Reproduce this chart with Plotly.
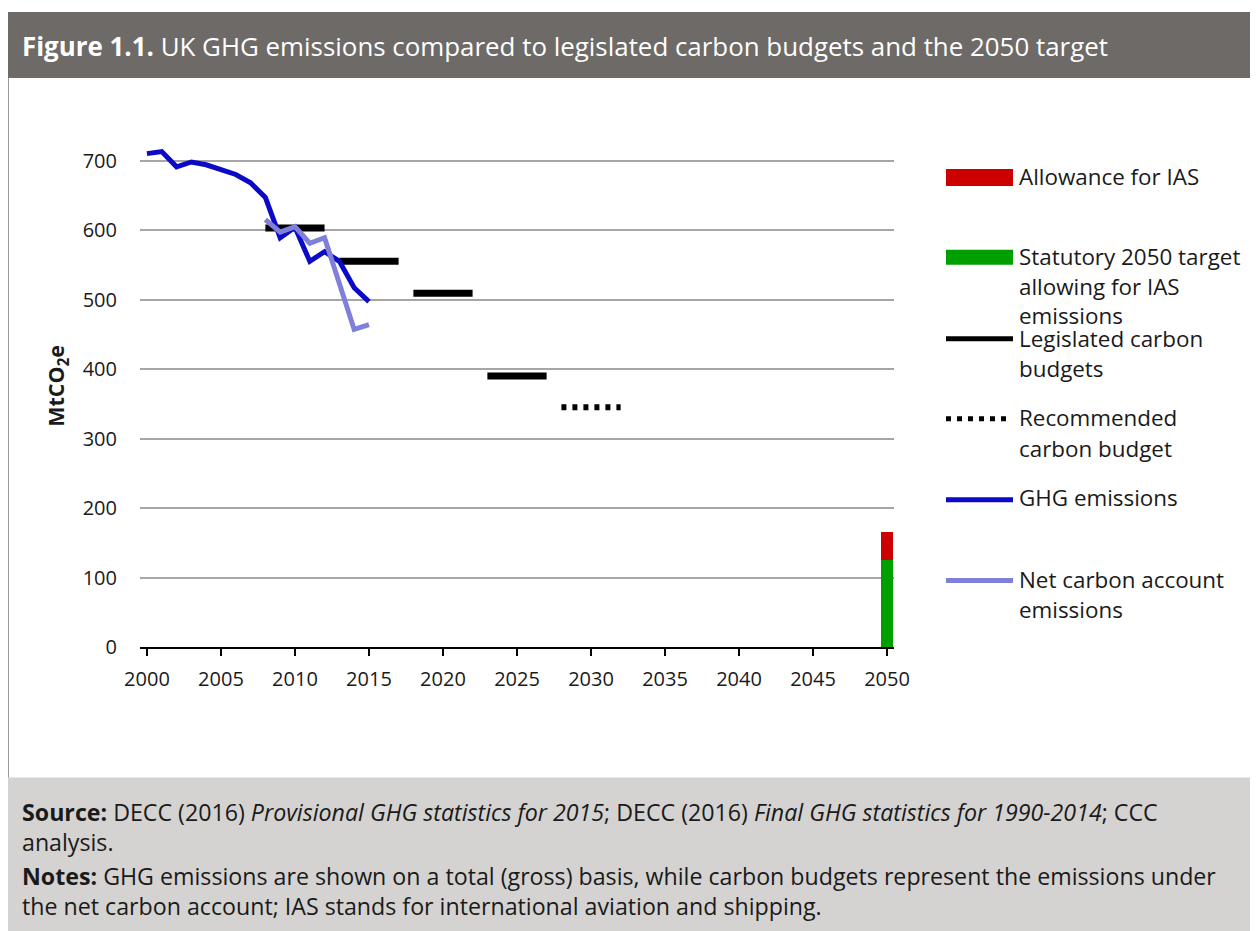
import plotly.graph_objects as go

# ---------------- data ----------------
ghg_years = list(range(2000, 2016))
ghg_values = [710, 713, 691, 698, 694, 687, 680, 668, 647, 589, 604, 555, 569, 555, 517, 497]

net_years = list(range(2008, 2016))
net_values = [615, 597, 605, 581, 589, 523, 457, 464]

budget_start_years = [2008, 2013, 2018, 2023]
budget_values = [603, 555, 509, 390]

recommended_start_years = [2028]
recommended_values = [345]

target_year = [2050]
target_value = [125]      # statutory 2050 target allowing for IAS emissions
ias_allowance = [40]      # allowance for IAS

x_ticks = list(range(2000, 2051, 5))
y_ticks = list(range(0, 701, 100))

# ---------------- style ----------------
FONT = "Open Sans"
TXT = "#1a1a1a"
C_GHG = "#0a0ac8"
C_NET = "#8080da"
C_RED = "#cc0000"
C_GREEN = "#009f00"

OFF = 8                      # page body margin
W, H = 1258 - OFF, 931 - OFF

# plot area in screen pixels
PL, PR, PT, PB = 140, 894, 105, 647.5


def px_x(x):
    return (x - PL) / (PR - PL)


def px_y(y):
    return (PB - y) / (PB - PT)


fig = go.Figure()

# stacked 2050 bar
fig.add_trace(go.Bar(x=target_year, y=target_value, marker=dict(color=C_GREEN, line=dict(width=0)),
                     width=0.87, showlegend=False, name="Statutory 2050 target allowing for IAS emissions"))
fig.add_trace(go.Bar(x=target_year, y=ias_allowance, marker=dict(color=C_RED, line=dict(width=0)),
                     width=0.87, showlegend=False, name="Allowance for IAS"))

# legislated carbon budgets (5-year periods)
bx, by = [], []
for s, v in zip(budget_start_years, budget_values):
    bx += [s, s + 4, None]
    by += [v, v, None]
fig.add_trace(go.Scatter(x=bx, y=by, mode="lines", line=dict(color="black", width=7),
                         showlegend=False, name="Legislated carbon budgets"))

rx, ry = [], []
for s, v in zip(recommended_start_years, recommended_values):
    rx += [s, s + 4, None]
    ry += [v, v, None]
fig.add_trace(go.Scatter(x=rx, y=ry, mode="lines", line=dict(color="black", width=6, dash="5px,6px"),
                         showlegend=False, name="Recommended carbon budget"))

fig.add_trace(go.Scatter(x=ghg_years, y=ghg_values, mode="lines", line=dict(color=C_GHG, width=5),
                         showlegend=False, name="GHG emissions"))
fig.add_trace(go.Scatter(x=net_years, y=net_values, mode="lines", line=dict(color=C_NET, width=5),
                         showlegend=False, name="Net carbon account emissions"))

# ---------------- layout ----------------
y_max = 780
fig.update_layout(
    width=W, height=H,
    margin=dict(l=PL - OFF, r=W - (PR - OFF), t=PT - OFF, b=H - (PB - OFF)),
    paper_bgcolor="white", plot_bgcolor="white",
    barmode="stack",
    font=dict(family=FONT, color=TXT, size=20),
    showlegend=False,
    xaxis=dict(range=[1999.53, 2050.47], tickvals=x_ticks, ticktext=[str(t) for t in x_ticks],
               showgrid=False, zeroline=False, showline=True, linecolor="black", linewidth=1.5,
               ticks="outside", ticklen=7, tickcolor="black", tickwidth=1.5, ticklabelstandoff=6,
               tickfont=dict(size=20, color=TXT), fixedrange=True),
    yaxis=dict(range=[0, y_max], tickvals=y_ticks, showgrid=True, gridcolor="#a6a6a6", gridwidth=1.5,
               zeroline=False, showline=False, ticks="", ticklabelstandoff=22,
               tickfont=dict(size=20, color=TXT), fixedrange=True),
)

shapes = []
annotations = []

# header bar
shapes.append(dict(type="rect", xref="paper", yref="paper", layer="below",
                   x0=px_x(8), x1=px_x(1270), y0=px_y(78), y1=px_y(12),
                   fillcolor="#6d6a67", line=dict(width=0)))
# footer
shapes.append(dict(type="rect", xref="paper", yref="paper", layer="below",
                   x0=px_x(8), x1=px_x(1270), y0=px_y(945), y1=px_y(778),
                   fillcolor="#d4d3d2", line=dict(width=0)))
# left border
shapes.append(dict(type="line", xref="paper", yref="paper", layer="below",
                   x0=px_x(8), x1=px_x(8), y0=px_y(778), y1=px_y(78),
                   line=dict(color="#9a9a9a", width=2)))

annotations.append(dict(xref="paper", yref="paper", x=px_x(20), y=px_y(46), xanchor="left", yanchor="middle",
                        showarrow=False, align="left",
                        text="<b>Figure 1.1.</b> UK GHG emissions compared to legislated carbon budgets and the 2050 target",
                        font=dict(family=FONT, size=25.9, color="white")))

footer_lines = [
    (813, "<b>Source:</b> DECC (2016) <i>Provisional GHG statistics for 2015</i>; DECC (2016) <i>Final GHG statistics for 1990-2014</i>; CCC"),
    (843, "analysis."),
    (877, "<b>Notes:</b> GHG emissions are shown on a total (gross) basis, while carbon budgets represent the emissions under"),
    (907, "the net carbon account; IAS stands for international aviation and shipping."),
]
for yy, t in footer_lines:
    annotations.append(dict(xref="paper", yref="paper", x=px_x(20), y=px_y(yy), xanchor="left", yanchor="middle",
                            showarrow=False, align="left", text=t, font=dict(family=FONT, size=23.2, color=TXT)))

# y axis title
annotations.append(dict(xref="paper", yref="paper", x=px_x(57), y=px_y(386), xanchor="center", yanchor="middle",
                        showarrow=False, textangle=-90, text="<b>MtCO<sub>2</sub>e</b>",
                        font=dict(family=FONT, size=21.5, color=TXT)))

# custom legend
LX0, LX1, TX = 946, 1013, 1017
legend_items = [
    ("rect", C_RED, 169, 186, [(177, "Allowance for IAS")]),
    ("rect", C_GREEN, 250, 265, [(257, "Statutory 2050 target"), (287, "allowing for IAS"), (316, "emissions")]),
    ("line", "black", 339, None, [(339, "Legislated carbon"), (369, "budgets")]),
    ("dot", "black", 419, None, [(418, "Recommended"), (449, "carbon budget")]),
    ("line", C_GHG, 500, None, [(498, "GHG emissions")]),
    ("line", C_NET, 581, None, [(580, "Net carbon account"), (610, "emissions")]),
]
for kind, col, y0, y1, texts in legend_items:
    if kind == "rect":
        shapes.append(dict(type="rect", xref="paper", yref="paper", x0=px_x(LX0), x1=px_x(LX1),
                           y0=px_y(y1), y1=px_y(y0), fillcolor=col, line=dict(width=0)))
    elif kind == "line":
        shapes.append(dict(type="line", xref="paper", yref="paper", x0=px_x(LX0), x1=px_x(LX1),
                           y0=px_y(y0), y1=px_y(y0), line=dict(color=col, width=5)))
    else:
        shapes.append(dict(type="line", xref="paper", yref="paper", x0=px_x(LX0), x1=px_x(1006),
                           y0=px_y(y0), y1=px_y(y0), line=dict(color=col, width=5, dash="5px,6px")))
    for ty, t in texts:
        annotations.append(dict(xref="paper", yref="paper", x=px_x(TX), y=px_y(ty), xanchor="left",
                                yanchor="middle", showarrow=False, text=t,
                                font=dict(family=FONT, size=22.4, color=TXT)))

fig.update_layout(shapes=shapes, annotations=annotations)
fig.write_html("out.html")
